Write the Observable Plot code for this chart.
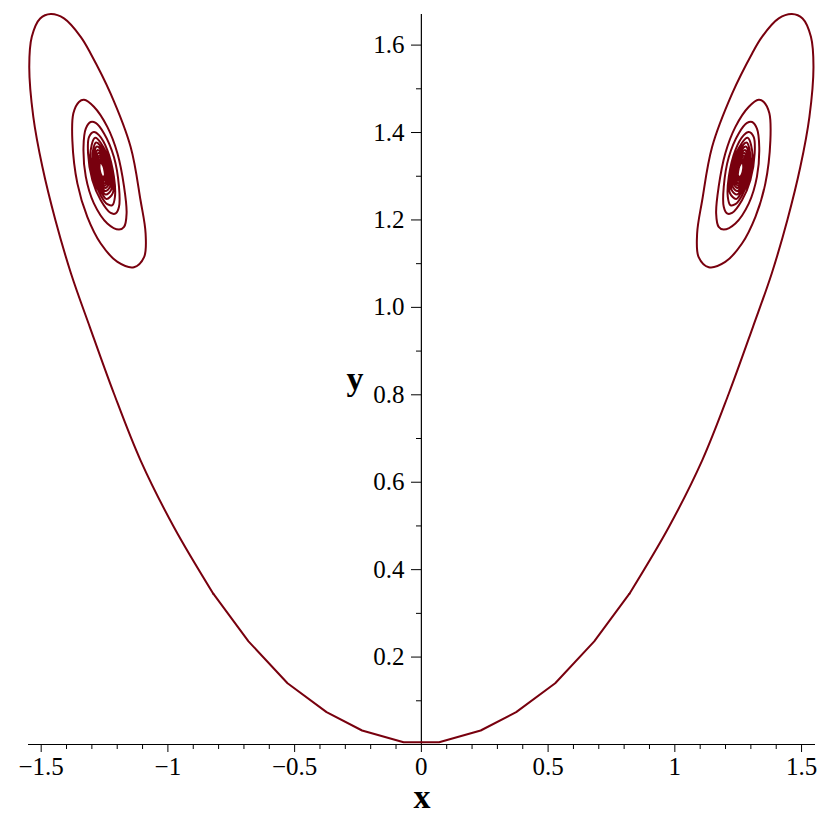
<!DOCTYPE html>
<html><head><meta charset="utf-8">
<script src="https://cdn.jsdelivr.net/npm/d3@7"></script>
<script src="https://cdn.jsdelivr.net/npm/@observablehq/plot@0.6"></script>
<style>body{margin:0;background:#fff} #chart{width:830px;height:830px}</style>
</head><body><div id="chart"></div>
<script>
// Left trajectory (outer arc, then loops spiralling into the focus near (-1.26, 1.31))
const leftX = [0, -0.07, -0.234, -0.374, -0.528, -0.682, -0.821, -0.976, -1.108, -1.213, -1.308, -1.382, -1.444, -1.495, -1.531, -1.547, -1.537, -1.504, -1.462, -1.41, -1.344, -1.305, -1.226, -1.147, -1.108, -1.088, -1.094, -1.134,
  -1.199, -1.265, -1.318, -1.357, -1.377, -1.373, -1.351, -1.331, -1.292, -1.239, -1.199, -1.173, -1.163, -1.173, -1.193,
  -1.239, -1.292, -1.324, -1.333, -1.324, -1.305, -1.285, -1.252, -1.213, -1.193, -1.193, -1.206, -1.226,
  -1.265, -1.298, -1.315, -1.311, -1.292, -1.272, -1.239, -1.213, -1.209, -1.219, -1.239,
  -1.264, -1.292, -1.307, -1.287, -1.242, -1.220, -1.217, -1.242,
  -1.263, -1.287, -1.299, -1.283, -1.245, -1.226, -1.223, -1.245,
  -1.263, -1.283, -1.294, -1.280, -1.247, -1.231, -1.228, -1.247,
  -1.262, -1.280, -1.289, -1.277, -1.248, -1.235, -1.233, -1.248,
  -1.262, -1.277, -1.284, -1.274, -1.250, -1.238, -1.237, -1.250,
  -1.261, -1.274, -1.280, -1.272, -1.251, -1.242, -1.240, -1.251,
  -1.261, -1.272, -1.277, -1.270, -1.253, -1.244, -1.243, -1.253,
  -1.261, -1.270, -1.274, -1.268, -1.254, -1.247, -1.246, -1.254,
  -1.260, -1.268, -1.272, -1.267, -1.254, -1.248, -1.248, -1.254,
  -1.260, -1.267, -1.270, -1.266, -1.255, -1.250, -1.249, -1.255];
const leftY = [0.005, 0.005, 0.032, 0.074, 0.140, 0.236, 0.345, 0.497, 0.650, 0.803, 0.955, 1.077, 1.200, 1.321, 1.436, 1.550, 1.619, 1.661, 1.671, 1.661, 1.619, 1.581, 1.489, 1.367, 1.245, 1.169, 1.115, 1.092,
  1.104, 1.146, 1.207, 1.283, 1.382, 1.444, 1.470, 1.475, 1.459, 1.413, 1.352, 1.276, 1.215, 1.184, 1.178,
  1.192, 1.238, 1.299, 1.367, 1.409, 1.424, 1.422, 1.398, 1.344, 1.276, 1.230, 1.215, 1.216,
  1.245, 1.291, 1.352, 1.390, 1.401, 1.394, 1.360, 1.299, 1.253, 1.234, 1.236,
  1.255, 1.294, 1.346, 1.388, 1.353, 1.301, 1.262, 1.248,
  1.264, 1.297, 1.341, 1.377, 1.347, 1.303, 1.270, 1.258,
  1.271, 1.300, 1.338, 1.368, 1.343, 1.305, 1.276, 1.266,
  1.277, 1.302, 1.334, 1.360, 1.338, 1.306, 1.282, 1.273,
  1.283, 1.304, 1.331, 1.353, 1.335, 1.307, 1.287, 1.279,
  1.288, 1.305, 1.328, 1.347, 1.332, 1.308, 1.291, 1.284,
  1.292, 1.307, 1.326, 1.342, 1.329, 1.309, 1.295, 1.289,
  1.295, 1.308, 1.324, 1.338, 1.326, 1.310, 1.298, 1.293,
  1.298, 1.309, 1.323, 1.334, 1.325, 1.311, 1.300, 1.296,
  1.300, 1.309, 1.322, 1.331, 1.323, 1.311, 1.302, 1.298];
// Right trajectory (mirror image, spiralling into the focus near (1.26, 1.31))
const rightX = [0, 0.07, 0.234, 0.374, 0.528, 0.682, 0.821, 0.976, 1.108, 1.213, 1.308, 1.382, 1.444, 1.495, 1.531, 1.547, 1.537, 1.504, 1.462, 1.41, 1.344, 1.305, 1.226, 1.147, 1.108, 1.088, 1.094, 1.134,
  1.199, 1.265, 1.318, 1.357, 1.377, 1.373, 1.351, 1.331, 1.292, 1.239, 1.199, 1.173, 1.163, 1.173, 1.193,
  1.239, 1.292, 1.324, 1.333, 1.324, 1.305, 1.285, 1.252, 1.213, 1.193, 1.193, 1.206, 1.226,
  1.265, 1.298, 1.315, 1.311, 1.292, 1.272, 1.239, 1.213, 1.209, 1.219, 1.239,
  1.264, 1.292, 1.307, 1.287, 1.242, 1.220, 1.217, 1.242,
  1.263, 1.287, 1.299, 1.283, 1.245, 1.226, 1.223, 1.245,
  1.263, 1.283, 1.294, 1.280, 1.247, 1.231, 1.228, 1.247,
  1.262, 1.280, 1.289, 1.277, 1.248, 1.235, 1.233, 1.248,
  1.262, 1.277, 1.284, 1.274, 1.250, 1.238, 1.237, 1.250,
  1.261, 1.274, 1.280, 1.272, 1.251, 1.242, 1.240, 1.251,
  1.261, 1.272, 1.277, 1.270, 1.253, 1.244, 1.243, 1.253,
  1.261, 1.270, 1.274, 1.268, 1.254, 1.247, 1.246, 1.254,
  1.260, 1.268, 1.272, 1.267, 1.254, 1.248, 1.248, 1.254,
  1.260, 1.267, 1.270, 1.266, 1.255, 1.250, 1.249, 1.255];
const rightY = leftY.slice();

// number of points in the coarse, straight-segment stretch at the bottom
const coarseCount = 7;

const xMajorTicks = [-1.5, -1, -0.5, 0, 0.5, 1, 1.5];
const xMinorTicks = [-1.4, -1.3, -1.2, -1.1, -0.9, -0.8, -0.7, -0.6, -0.4, -0.3, -0.2, -0.1, 0.1, 0.2, 0.3, 0.4, 0.6, 0.7, 0.8, 0.9, 1.1, 1.2, 1.3, 1.4];
const yMajorTicks = [0.2, 0.4, 0.6, 0.8, 1.0, 1.2, 1.4, 1.6];
const yMinorTicks = [0.1, 0.3, 0.5, 0.7, 0.9, 1.1, 1.3, 1.5];
const xLabel = "x";
const yLabel = "y";
const lineColor = "#78000E";

const pts = (xs, ys, side) => xs.map((x, i) => ({x, y: ys[i], side}));
const coarse = [
  ...pts(leftX.slice(0, coarseCount), leftY.slice(0, coarseCount), "L"),
  ...pts(rightX.slice(0, coarseCount), rightY.slice(0, coarseCount), "R")
];
const smooth = [
  ...pts(leftX.slice(coarseCount - 1), leftY.slice(coarseCount - 1), "L"),
  ...pts(rightX.slice(coarseCount - 1), rightY.slice(coarseCount - 1), "R")
];

const font = '"Liberation Serif","Times New Roman",serif';
const fmtX = d => d === 0 ? "0" : (d < 0 ? "\u2212" : "") + String(Math.abs(d));

const chart = Plot.plot({
  width: 830, height: 830,
  marginLeft: 28, marginRight: 15, marginTop: 14, marginBottom: 86,
  style: {fontFamily: font, background: "#fff", color: "#000", overflow: "visible"},
  x: {domain: [-1.55, 1.555], axis: null},
  y: {domain: [0, 1.67], axis: null},
  marks: [
    Plot.ruleY([0], {stroke: "#000", strokeWidth: 1.2}),
    Plot.ruleX([0], {stroke: "#000", strokeWidth: 1.2}),
    Plot.axisX(xMinorTicks, {anchor: "bottom", tickSize: 5, tickFormat: () => "", label: null}),
    Plot.axisX(xMajorTicks, {anchor: "bottom", tickSize: 8, tickPadding: 5, fontSize: 25, tickFormat: fmtX, label: null}),
    Plot.axisY(yMinorTicks, {anchor: "left", dx: 393, tickSize: 5, tickFormat: () => "", label: null}),
    Plot.axisY(yMajorTicks, {anchor: "left", dx: 393, tickSize: 10, tickPadding: 7, fontSize: 25, tickFormat: d3.format(".1f"), label: null}),
    Plot.line(coarse, {x: "x", y: "y", z: "side", stroke: lineColor, strokeWidth: 2, strokeLinejoin: "round"}),
    Plot.line(smooth, {x: "x", y: "y", z: "side", stroke: lineColor, strokeWidth: 2, curve: "catmull-rom"}),
    Plot.text([xLabel], {frameAnchor: "bottom", dy: 63, fontSize: 34, fontWeight: "bold", text: d => d}),
    Plot.text([yLabel], {frameAnchor: "left", dx: 318, fontSize: 34, fontWeight: "bold", text: d => d})
  ]
});
document.getElementById("chart").appendChild(chart);
</script>
</body></html>
